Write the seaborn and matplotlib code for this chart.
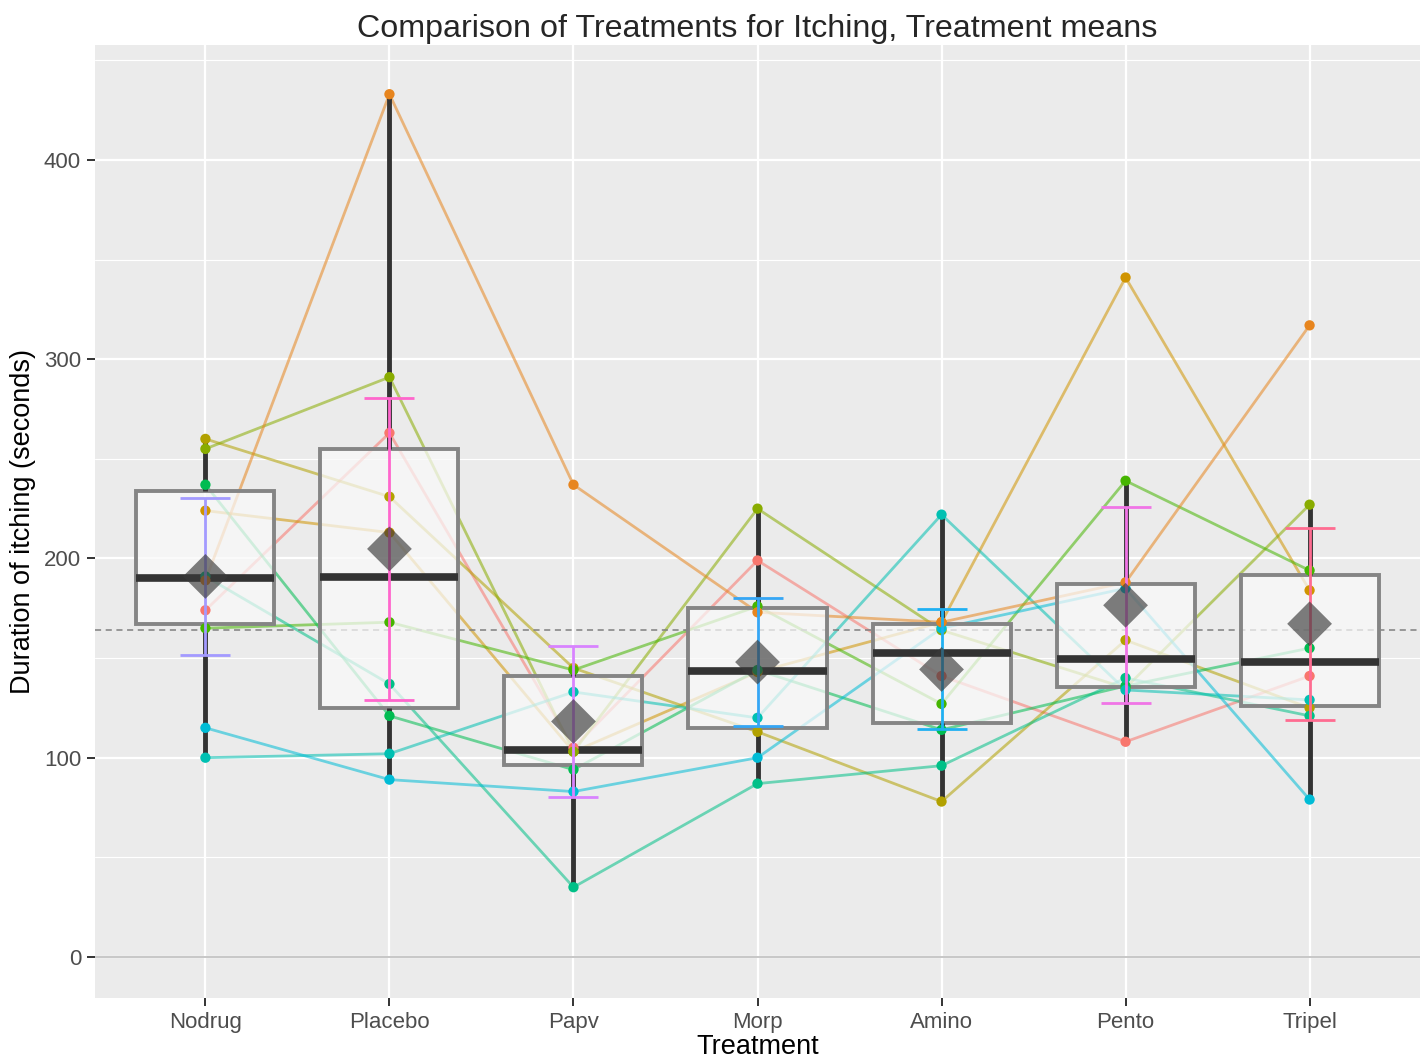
import numpy as np
import pandas as pd
import matplotlib
matplotlib.use("Agg")
import matplotlib.pyplot as plt
import seaborn as sns

# Itching duration (seconds) per subject under each treatment
treatments = ["Nodrug", "Placebo", "Papv", "Morp", "Amino", "Pento", "Tripel"]
subjects = ["BG", "JF", "BS", "SI", "BW", "TS", "GM", "SS", "MU", "OS"]
nodrug = [174, 224, 260, 255, 165, 237, 191, 100, 115, 189]
placebo = [263, 213, 231, 291, 168, 121, 137, 102, 89, 433]
papv = [105, 103, 145, 103, 144, 94, 35, 133, 83, 237]
morp = [199, 143, 113, 225, 176, 144, 87, 120, 100, 173]
amino = [141, 168, 78, 164, 127, 114, 96, 222, 165, 168]
pento = [108, 341, 159, 135, 239, 136, 140, 134, 185, 188]
tripel = [141, 184, 125, 227, 194, 155, 121, 129, 79, 317]
T_975_DF9 = 2.262157  # Student t quantile for a 95% interval, 9 df

values = [nodrug, placebo, papv, morp, amino, pento, tripel]
df = pd.DataFrame({
    "Treatment": np.repeat(treatments, len(subjects)),
    "Subject": subjects * len(treatments),
    "Duration": np.concatenate(values),
})
pos = {t: i for i, t in enumerate(treatments)}
df["x"] = df["Treatment"].map(pos).astype(float)


def hcl_hex(h, c=100.0, l=65.0):
    """polarLUV -> sRGB hex, like R's hcl()."""
    hr = np.deg2rad(h)
    u, v = c * np.cos(hr), c * np.sin(hr)
    xn, yn, zn = 95.047, 100.0, 108.883
    den = xn + 15 * yn + 3 * zn
    un, vn = 4 * xn / den, 9 * yn / den
    y = yn * ((l + 16) / 116) ** 3
    up = u / (13 * l) + un
    vp = v / (13 * l) + vn
    x = 9.0 * y * up / (4 * vp)
    z = -x / 3 - 5 * y + 3 * y / vp
    xyz = np.array([x, y, z]) / 100.0
    m = np.array([[3.240479, -1.537150, -0.498535],
                  [-0.969256, 1.875992, 0.041556],
                  [0.055648, -0.204043, 1.057311]])
    rgb = m @ xyz
    rgb = np.where(rgb <= 0.0031308, 12.92 * rgb, 1.055 * np.power(np.clip(rgb, 0, None), 1 / 2.4) - 0.055)
    rgb = np.clip(rgb, 0, 1)
    return "#%02X%02X%02X" % tuple(int(round(c_ * 255)) for c_ in rgb)


n_hue = 17
hues = np.linspace(15, 375, n_hue + 1)[:-1]
pal = [hcl_hex(h) for h in hues]
subject_idx = {"BG": 0, "OS": 1, "JF": 2, "BS": 3, "SI": 4, "BW": 5,
               "TS": 6, "GM": 7, "SS": 8, "MU": 9}
subject_pal = {s: pal[i] for s, i in subject_idx.items()}
# interval colours for each treatment
treat_pal = {"Nodrug": "#A39AFF", "Placebo": "#FF66CC", "Papv": "#D883FF",
             "Morp": "#35A6F5", "Amino": "#1FB0F2", "Pento": "#F075E6",
             "Tripel": "#FF6C91"}

sns.set_theme(style="darkgrid", rc={
    "axes.facecolor": "#EBEBEB",
    "grid.color": "white",
    "grid.linewidth": 1.6,
    "axes.edgecolor": "#EBEBEB",
})
plt.rcParams["font.family"] = ["Liberation Sans", "DejaVu Sans"]

fig = plt.figure(figsize=(14.26, 10.61), dpi=100)
ax = fig.add_axes([95 / 1426, 1 - 998 / 1061, (1420 - 95) / 1426, (998 - 45) / 1061])

# minor grid
for yv in [50, 150, 250, 350, 450]:
    ax.axhline(yv, color="white", lw=0.8, zorder=0.5)
ax.axhline(0, color="#BDBDBD", lw=1.2, zorder=0.6)

# subject profiles
sns.lineplot(data=df, x="x", y="Duration", hue="Subject", palette=subject_pal,
             estimator=None, sort=True, lw=2.0, alpha=0.55, legend=False, ax=ax, zorder=2)

# grand mean
grand = df["Duration"].mean()
ax.axhline(grand, color="#7F7F7F", lw=1.1, ls=(0, (4, 3)), zorder=2.5)

# boxplots
sns.boxplot(data=df, x="x", y="Duration", native_scale=True, width=0.75,
            showfliers=False, showcaps=False, ax=ax,
            boxprops=dict(facecolor=(0.975, 0.975, 0.975, 0.72), edgecolor="#858585", lw=2.8, zorder=3),
            medianprops=dict(color="#333333", lw=5.5, zorder=3.2),
            whiskerprops=dict(color="#333333", lw=3.5, zorder=3.1))

# observations
sns.scatterplot(data=df, x="x", y="Duration", hue="Subject", palette=subject_pal,
                s=55, edgecolor="none", legend=False, ax=ax, zorder=4)

# 95% confidence intervals for the treatment means
stats = df.groupby("Treatment")["Duration"].agg(["mean", "std", "count"]).reindex(treatments)
half = T_975_DF9 * stats["std"] / np.sqrt(stats["count"])
for t in treatments:
    ax.errorbar(pos[t], stats.loc[t, "mean"], yerr=half[t], color=treat_pal[t],
                lw=2.0, capsize=18, capthick=2.0, zorder=5)

# treatment means
means = stats.reset_index()
means["x"] = means["Treatment"].map(pos).astype(float)
sns.scatterplot(data=means, x="x", y="mean", marker="D", s=520, color="#3A3A3A",
                alpha=0.65, edgecolor="none", legend=False, ax=ax, zorder=6)

ax.set_xlim(-0.6, 6.6)
ax.set_ylim(-20.6, 457.7)
ax.set_xticks(range(len(treatments)))
ax.set_xticklabels(treatments)
ax.set_yticks([0, 100, 200, 300, 400])
ax.tick_params(axis="both", colors="#4D4D4D", labelsize=16, length=6, width=1.4,
               direction="out", pad=4)
ax.tick_params(axis="both", color="#333333")
ax.xaxis.set_tick_params(bottom=True)
ax.yaxis.set_tick_params(left=True)
for s in ax.spines.values():
    s.set_visible(False)
ax.grid(True, which="major", color="white", lw=1.6)
ax.set_axisbelow(True)

ax.set_xlabel("Treatment", fontsize=19.5, color="black", labelpad=1)
ax.set_ylabel("Duration of itching (seconds)", fontsize=19.5, color="black", labelpad=6)
ax.set_title("Comparison of Treatments for Itching, Treatment means", fontsize=23.2, pad=6)

fig.savefig("out.png", dpi=100)
